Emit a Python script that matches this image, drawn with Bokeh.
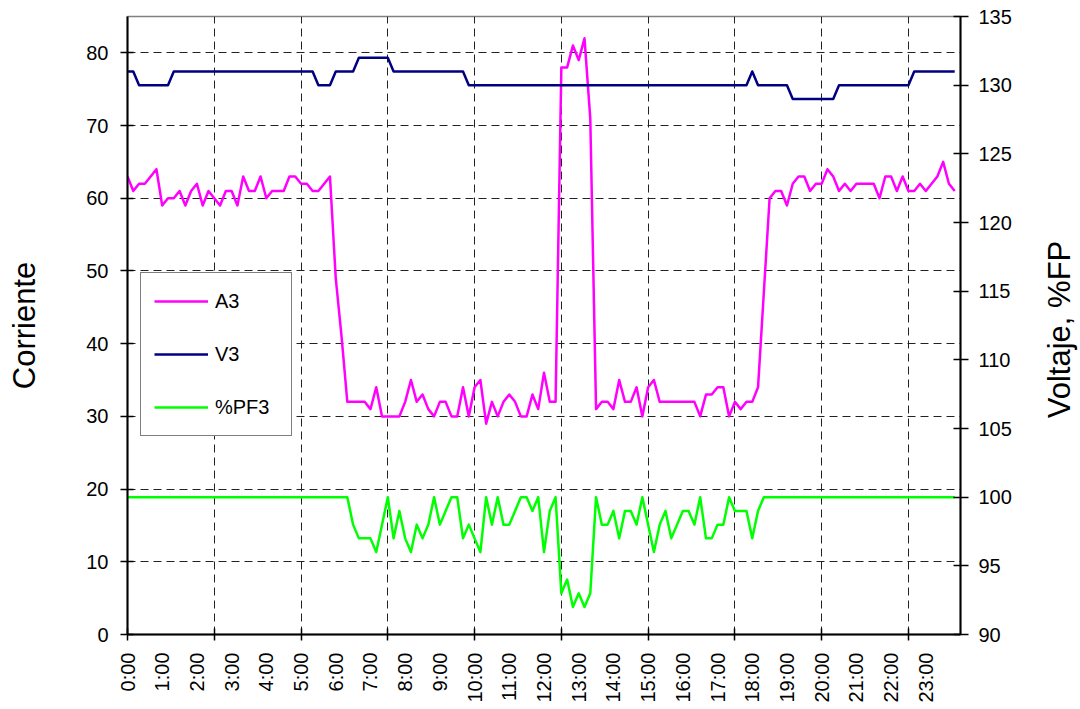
import numpy as np
from bokeh.plotting import figure
from bokeh.models import Range1d, LinearAxis, FixedTicker, Legend, LegendItem, Label
from bokeh.embed import file_html
from bokeh.resources import INLINE

hour_labels = ["0:00", "1:00", "2:00", "3:00", "4:00", "5:00", "6:00", "7:00",
               "8:00", "9:00", "10:00", "11:00", "12:00", "13:00", "14:00", "15:00",
               "16:00", "17:00", "18:00", "19:00", "20:00", "21:00", "22:00", "23:00"]

# A3 current, every 10 minutes (left axis)
a3 = [63, 61, 62, 62, 63, 64, 59, 60, 60, 61, 59, 61, 62, 59, 61, 60, 59, 61,
      61, 59, 63, 61, 61, 63, 60, 61, 61, 61, 63, 63, 62, 62, 61, 61, 62, 63,
      49, 41, 32, 32, 32, 32, 31, 34, 30, 30, 30, 30, 32, 35, 32, 33, 31, 30, 32,
      32, 30, 30, 34, 30, 34, 35, 29, 32, 30, 32, 33, 32, 30, 30, 33, 31, 36,
      32, 32, 78, 78, 81, 79, 82, 71, 31, 32, 32, 31, 35, 32, 32, 34, 30, 34,
      35, 32, 32, 32, 32, 32, 32, 32, 30, 33, 33, 34, 34, 30, 32, 31, 32, 32,
      34, 47, 60, 61, 61, 59, 62, 63, 63, 61, 62, 62, 64, 63, 61, 62, 61, 62,
      62, 62, 62, 60, 63, 63, 61, 63, 61, 61, 62, 61, 62, 63, 65, 62, 61]

# V3 voltage (right axis)
v3 = ([131] * 2 + [130] * 6 + [131] * 25 + [130] * 3 + [131] * 4 + [132] * 6 +
      [131] * 13 + [130] * 49 + [131] * 1 + [130] * 6 + [129] * 8 + [130] * 13 +
      [131] * 8)

# %PF3 power factor (right axis)
pf3 = ([100] * 39 +
       [98, 97, 97, 97, 96, 98, 100, 97, 99, 97, 96, 98, 97, 98, 100, 98] +
       [99, 100, 100, 97, 98, 97, 96, 100, 98, 100, 98, 98, 99, 100, 100, 99, 100, 96] +
       [99, 100, 93, 94, 92, 93, 92, 93, 100, 98, 98, 99, 97, 99, 99, 98, 100, 98] +
       [96, 98, 99, 97, 98, 99, 99, 98, 100, 97, 97, 98, 98, 100, 99, 99, 99, 97] +
       [99] + [100] * 34)

x = np.arange(len(a3)) / 6.0

FONT = "Liberation Sans"

p = figure(width=1080, height=709, output_backend="svg", toolbar_location=None,
           x_range=Range1d(0, 24), y_range=Range1d(0, 85),
           min_border_left=127, min_border_right=120, min_border_top=16,
           min_border_bottom=75)
p.extra_y_ranges = {"right": Range1d(90, 135)}

p.outline_line_color = "#808080"
p.outline_line_width = 1.5
p.background_fill_color = "white"
p.border_fill_color = "white"

# grids
p.xgrid.ticker = FixedTicker(ticks=[2.5 * k for k in range(1, 10)])
p.ygrid.ticker = FixedTicker(ticks=[10, 20, 30, 40, 50, 60, 70, 80])
for g in (p.xgrid, p.ygrid):
    g.grid_line_color = "#222222"
    g.grid_line_dash = "8 5"
    g.grid_line_width = 1

# bottom axis
xa = p.xaxis[0]
xa.ticker = FixedTicker(ticks=list(range(24)), minor_ticks=[2.5 * k for k in range(10)])
xa.major_label_overrides = {i: hour_labels[i] for i in range(24)}
xa.major_label_orientation = np.pi / 2
xa.major_tick_in = 0
xa.major_tick_out = 0
xa.minor_tick_in = 6
xa.minor_tick_out = 6
xa.minor_tick_line_color = "black"
xa.minor_tick_line_width = 1.5
xa.major_label_standoff = 12
xa.major_label_text_font = FONT
xa.major_label_text_font_size = "20px"
xa.major_label_text_color = "black"
xa.axis_line_color = "black"
xa.axis_line_width = 2

# left axis
ya = p.yaxis[0]
ya.ticker = FixedTicker(ticks=[0, 10, 20, 30, 40, 50, 60, 70, 80])
ya.axis_label = "Corriente"
ya.axis_label_text_font = FONT
ya.axis_label_text_font_size = "31px"
ya.axis_label_text_font_style = "normal"
ya.axis_label_text_color = "black"
ya.axis_label_standoff = 41
ya.major_label_text_font = FONT
ya.major_label_text_font_size = "20px"
ya.major_label_text_color = "black"
ya.major_label_standoff = 12
ya.major_tick_in = 6
ya.major_tick_out = 7
ya.major_tick_line_width = 1.5
ya.minor_tick_line_color = None
ya.axis_line_color = "black"
ya.axis_line_width = 2

# right axis
ra = LinearAxis(y_range_name="right",
                ticker=FixedTicker(ticks=list(range(90, 136, 5))))
ra.major_label_text_font = FONT
ra.major_label_text_font_size = "20px"
ra.major_label_text_color = "black"
ra.major_label_standoff = 10
ra.major_tick_in = 7
ra.major_tick_out = 8
ra.major_tick_line_width = 1.5
ra.minor_tick_line_color = None
ra.axis_line_color = "black"
ra.axis_line_width = 2
p.add_layout(ra, "right")

# right axis title, reading bottom-to-top as in the reference (placed in the right panel)
right_title = Label(x=45, y=305, x_units="screen", y_units="screen",
                    text="Voltaje, %FP",
                    angle=np.pi / 2, angle_units="rad",
                    text_align="center", text_baseline="middle",
                    text_font=FONT, text_font_size="31px", text_color="black")
p.add_layout(right_title, "right")

r_a3 = p.line(x, a3, line_color="#FF00FF", line_width=2.5, line_join="round")
r_v3 = p.line(x, v3, line_color="#000080", line_width=2.5, line_join="round",
              y_range_name="right")
r_pf = p.line(x, pf3, line_color="#00FF00", line_width=2.5, line_join="round",
              y_range_name="right")

legend = Legend(items=[LegendItem(label="A3", renderers=[r_a3]),
                       LegendItem(label="V3", renderers=[r_v3]),
                       LegendItem(label="%PF3", renderers=[r_pf])],
                location=(13, 198), orientation="vertical",
                border_line_color="black", border_line_width=1.5,
                background_fill_color="white", background_fill_alpha=1.0,
                padding=13, spacing=23, margin=0,
                glyph_width=54, glyph_height=30, label_height=30,
                label_width=63, label_standoff=7,
                label_text_font=FONT, label_text_font_size="20px",
                label_text_color="black")
p.add_layout(legend, "center")

open("out.html", "w").write(file_html(p, INLINE))
